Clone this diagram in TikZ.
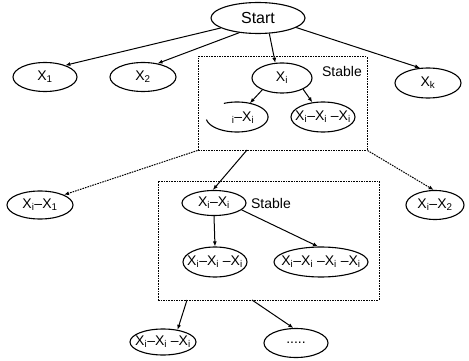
\documentclass[tikz,border=0pt]{standalone}
\usepackage{fontspec}
\setmainfont{Liberation Sans}
\usetikzlibrary{arrows.meta,shapes.geometric}
\newcommand{\Xs}[1]{X\textsubscript{#1}}
\newcommand{\ztext}[1]{\makebox[0pt]{#1}}
\begin{document}
\begin{tikzpicture}[x=1pt,y=-1pt,
  ell/.style={draw, ellipse, line width=1.1pt, inner sep=0pt, font=\fontsize{14}{16}\selectfont},
  lbl/.style={inner sep=0pt, font=\fontsize{14}{16}\selectfont},
  arr/.style={-{Latex[length=5pt,width=4pt]}, line width=1pt},
  darr/.style={arr, dash pattern=on 1.6pt off 1pt},
  dbox/.style={draw, rectangle, dash pattern=on 1.6pt off 1pt, line width=1pt, inner sep=0pt}]
\path[use as bounding box] (0,0) rectangle (469,361);

% boxes
\node[dbox, minimum width=169, minimum height=93] (box1) at (282.5,103.5) {};
\node[dbox, minimum width=221, minimum height=119] (box2) at (268.5,240.5) {};

% nodes
\node[ell, minimum width=94, minimum height=31, font=\fontsize{16}{18}\selectfont] (start) at (258,18) {\ztext{Start}};
\node[ell, minimum width=64, minimum height=29] (x1) at (45,77) {\ztext{\Xs{1}}};
\node[ell, minimum width=66, minimum height=29] (x2) at (143,77) {\ztext{\Xs{2}}};
\node[ell, minimum width=60, minimum height=30] (xi) at (282,78) {\ztext{\Xs{i}}};
\node[ell, minimum width=66, minimum height=30] (xk) at (428,83) {\ztext{\Xs{k}}};
\node[lbl] (st1) at (342,71) {Stable};

\node[ellipse, minimum width=62, minimum height=30, inner sep=0pt] (lp) at (237,117) {};
\draw[line width=1.1pt] plot[domain=-170:115, samples=80, smooth] ({237+31*cos(\x)}, {117-15*sin(\x)});
\node[lbl] (lp-t) at (243,118) {\textsubscript{i}–\Xs{i}};
\node[ell, minimum width=64, minimum height=30] (rn) at (323,117) {\ztext{\Xs{i}–\Xs{i} –\Xs{i}}};

\node[ell, minimum width=66, minimum height=28] (xa) at (40,205) {\ztext{\Xs{i}–\Xs{1}}};
\node[ell, minimum width=58, minimum height=29] (xb) at (435,205) {\ztext{\Xs{i}–\Xs{2}}};

\node[ell, minimum width=64, minimum height=25] (xj) at (214,203) {\ztext{\Xs{i}–\Xs{i}}};
\node[lbl] (st2) at (271,203) {Stable};
\node[ell, minimum width=64, minimum height=30] (lc) at (215,262) {\ztext{\Xs{i}–\Xs{i} –\Xs{i}}};
\node[ell, minimum width=94, minimum height=30] (rc) at (321,262) {\ztext{\Xs{i}–\Xs{i} –\Xs{i} –\Xs{i}}};

\node[ell, minimum width=66, minimum height=26] (bl) at (163,342) {\ztext{\Xs{i}–\Xs{i} –\Xs{i}}};
\node[ell, minimum width=64, minimum height=29] (dots) at (296,343) {\ztext{.....}};

% connector ends on boxes
\coordinate (b1a) at (247,150);
\coordinate (b2a) at (187,300);
\coordinate (b2b) at (252,300);

% connectors
\draw[arr] (start.195) -- (x1.30);
\draw[arr] (start.218) -- (x2.43);
\draw[arr] (start.-54) -- (xi.114);
\draw[arr] (start.-14) -- (xk.118);
\draw[arr] (xi.211) -- (lp.47);
\draw[arr] (xi.-28) -- (rn.126);
\draw[darr] (box1.south west) -- (xa.23);
\draw[darr] (box1.south east) -- (xb.95);
\draw[arr] (b1a) -- (xj.95);
\draw[arr] (xj.south) -- (lc.north);
\draw[arr] (xj.-14) -- (rc.101);
\draw[arr] (b2a) -- (bl.40);
\draw[arr] (b2b) -- (dots.100);
\end{tikzpicture}
\end{document}
